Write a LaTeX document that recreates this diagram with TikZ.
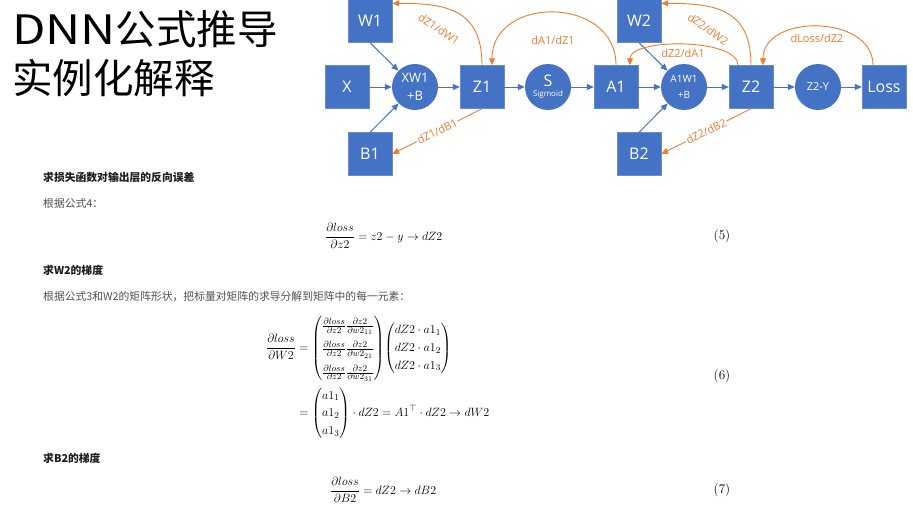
\documentclass[tikz,border=0pt]{standalone}
\usepackage{amsmath}
\usepackage{graphicx}
\usepackage{fontspec}
\usepackage{xcolor}
\usetikzlibrary{positioning,arrows.meta,calc}
\newfontfamily\cjkfont{Noto Sans CJK SC}
\newfontfamily\diagfont{Open Sans}
\definecolor{boxBlue}{HTML}{4472C4}
\definecolor{gradOrange}{HTML}{ED7D31}
\definecolor{bodyGray}{HTML}{505050}
\definecolor{headBlack}{HTML}{1E1E1E}
\tikzset{
  varbox/.style={fill=boxBlue, draw=boxBlue!80!white, minimum width=44pt, minimum height=43pt, inner sep=0pt, text=white, font=\diagfont\fontsize{16}{18}\selectfont},
  opnode/.style={circle, fill=boxBlue, minimum size=46pt, inner sep=0pt, text=white, align=center},
  fwd/.style={draw=boxBlue, line width=1pt, -{Triangle[length=7pt,width=6pt]}},
  bwd/.style={draw=gradOrange, line width=0.9pt, -{Triangle[length=7pt,width=6pt]}},
  gradlabel/.style={text=gradOrange, inner sep=1pt, font=\diagfont\fontsize{11}{13}\selectfont},
  headline/.style={anchor=west, inner sep=0pt, text=headBlack, font=\cjkfont\bfseries\fontsize{10.8}{13}\selectfont},
  bodyline/.style={anchor=west, inner sep=0pt, text=bodyGray, font=\cjkfont\fontsize{10.8}{13}\selectfont},
  eqnum/.style={inner sep=0pt, font=\fontsize{13.2}{16}\selectfont},
}
\begin{document}
\begin{tikzpicture}[x=1pt,y=-1pt]
  \fill[white] (0,0) rectangle (913,511);
  \useasboundingbox (0,0) rectangle (913,511);

  % title
  \node[anchor=base west, inner sep=0pt, font=\cjkfont\fontsize{40.5}{47}\selectfont] (title1) at (12,45) {\scalebox{1.2}[1]{DNN}公式推导};
  \node[anchor=base west, inner sep=0pt, font=\cjkfont\fontsize{40.5}{47}\selectfont] (title2) at (12,93) {实例化解释};

  % the network (forward pass)
  \node[varbox] (X) at (347,87) {X};
  \node[varbox] (W1) at (370,21) {W1};
  \node[varbox] (B1) at (370,154) {B1};
  \node[opnode, font=\diagfont\fontsize{13}{18}\selectfont] (XW1) at (415,87) {XW1\\+B};
  \node[varbox] (Z1) at (482,87) {Z1};
  \node[opnode] (S) at (548,87) {{\diagfont\fontsize{16}{17}\selectfont S}\\[-2pt]{\diagfont\fontsize{8}{9}\selectfont Sigmoid}};
  \node[varbox] (A1) at (616,87) {A1};
  \node[varbox] (W2) at (639,21) {W2};
  \node[varbox] (B2) at (639,154) {B2};
  \node[opnode, font=\diagfont\fontsize{10}{16}\selectfont] (A1W1) at (684,87) {A1W1\\+B};
  \node[varbox] (Z2) at (751,87) {Z2};
  \node[opnode, font=\diagfont\fontsize{11}{13}\selectfont] (Z2Y) at (818,87) {Z2-Y};
  \node[varbox] (Loss) at (884,87) {Loss};

  \draw[fwd] (X) -- (XW1);
  \draw[fwd] (W1.south) -- (XW1);
  \draw[fwd] (B1.north) -- (XW1);
  \draw[fwd] (XW1) -- (Z1);
  \draw[fwd] (Z1) -- (S);
  \draw[fwd] (S) -- (A1);
  \draw[fwd] (A1) -- (A1W1);
  \draw[fwd] (W2.south) -- (A1W1);
  \draw[fwd] (B2.north) -- (A1W1);
  \draw[fwd] (A1W1) -- (Z2);
  \draw[fwd] (Z2) -- (Z2Y);
  \draw[fwd] (Z2Y) -- (Loss);

  % gradients (backward pass)
  \draw[bwd] (Z1.north) to[out=90,in=0,looseness=1.3] ([yshift=-4pt]W1.north east);
  \node[gradlabel, rotate=-34] (gW1) at (439,29) {dZ1/dW1};
  \draw[bwd] (A1.north) to[out=90,in=90,looseness=1.45] ([xshift=10pt]Z1.north);
  \node[gradlabel] (gZ1) at (553,40) {dA1/dZ1};
  \draw[bwd] (Z1.south) -- node[gradlabel, sloped, fill=white] (gB1) {dZ1/dB1} (B1.east);

  \draw[bwd] (Z2.north) to[out=90,in=0,looseness=1.3] ([yshift=-4pt]W2.north east);
  \node[gradlabel, rotate=-35] (gW2) at (708,29) {dZ2/dW2};
  \draw[bwd] ([xshift=-13pt]Z2.north) to[out=90,in=90,looseness=0.65] ([xshift=14pt]A1.north);
  \node[gradlabel] (gA1) at (683,53) {dZ2/dA1};
  \draw[bwd] (Z2.south) -- node[gradlabel, sloped, fill=white] (gB2) {dZ2/dB2} (B2.east);
  \draw[bwd] ([xshift=-11pt]Loss.north) to[out=90,in=90,looseness=1.2] ([xshift=12pt]Z2.north);
  \node[gradlabel] (gZ2) at (817,38) {dLoss/dZ2};

  % derivation text
  \node[headline] (head1) at (43,177) {求损失函数对输出层的反向误差};
  \node[bodyline] (body1) at (43,203) {根据公式4：};
  \node[anchor=west, inner sep=0pt, font=\fontsize{13.2}{16}\selectfont] (eq5) at (325,236)
    {$\displaystyle \frac{\partial loss}{\partial z2} = z2 - y \to dZ2$};
  \node[eqnum] (num5) at (722,236) {(5)};

  \node[headline] (head2) at (43,270) {求W2的梯度};
  \node[bodyline] (body2) at (43,297) {根据公式3和W2的矩阵形状，把标量对矩阵的求导分解到矩阵中的每一元素：};
  \node[anchor=north west, inner sep=0pt, font=\fontsize{13.2}{16}\selectfont] (eq6) at (266,313)
    {$\begin{aligned}
      \frac{\partial loss}{\partial W2} &=
      {\renewcommand{\arraystretch}{1.45}\begin{pmatrix}
        \frac{\partial loss}{\partial z2}\frac{\partial z2}{\partial w2_{11}}\\
        \frac{\partial loss}{\partial z2}\frac{\partial z2}{\partial w2_{21}}\\
        \frac{\partial loss}{\partial z2}\frac{\partial z2}{\partial w2_{31}}
      \end{pmatrix}}
      {\renewcommand{\arraystretch}{1.1}\begin{pmatrix}
        dZ2\cdot a1_1\\ dZ2\cdot a1_2\\ dZ2\cdot a1_3
      \end{pmatrix}}\\
      &= {\renewcommand{\arraystretch}{1.1}\begin{pmatrix} a1_1\\ a1_2\\ a1_3 \end{pmatrix}}\cdot dZ2 = A1^{\top}\cdot dZ2 \to dW2
    \end{aligned}$};
  \node[eqnum] (num6) at (722,376) {(6)};

  \node[headline] (head3) at (43,458) {求B2的梯度};
  \node[anchor=west, inner sep=0pt, font=\fontsize{13}{15}\selectfont] (eq7) at (330,490)
    {$\displaystyle \frac{\partial loss}{\partial B2} = dZ2 \to dB2$};
  \node[eqnum] (num7) at (722,490) {(7)};
\end{tikzpicture}
\end{document}
